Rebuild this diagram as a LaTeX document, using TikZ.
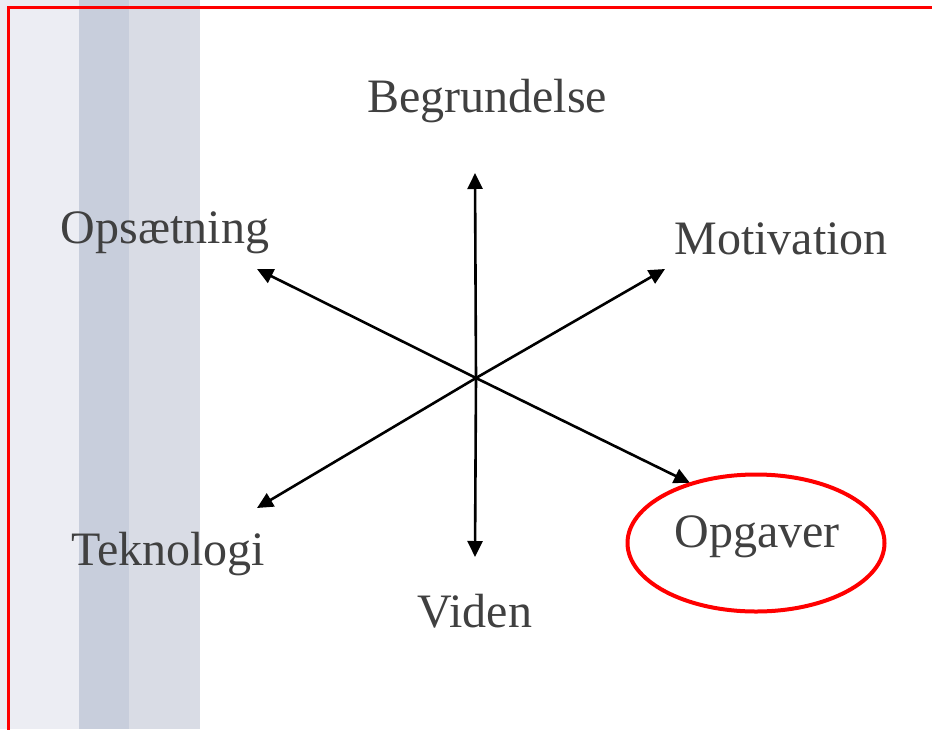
\documentclass[tikz,border=0pt]{standalone}
\usepackage{fontspec}
\setmainfont{Liberation Serif}
\usetikzlibrary{arrows.meta,shapes.geometric}
\definecolor{stripeA}{HTML}{ECEDF3}
\definecolor{stripeB}{HTML}{C8CEDC}
\definecolor{stripeC}{HTML}{D9DCE5}
\definecolor{txtgray}{HTML}{404040}
\tikzset{
  lbl/.style={anchor=base, text=txtgray, font=\fontsize{48}{58}\selectfont, inner sep=0pt},
  spoke/.style={line width=2.6pt, -{Triangle[length=16pt,width=15pt]}},
}
\begin{document}
\begin{tikzpicture}[x=1pt,y=-1pt]
\useasboundingbox (0,0) rectangle (932,729);
\fill[white] (0,0) rectangle (932,729);
\fill[stripeA] (0,0) rectangle (79,729);
\fill[stripeB] (79,0) rectangle (129,729);
\fill[stripeC] (129,0) rectangle (200,729);
\begin{scope}
\clip (0,0) rectangle (932,729);
\draw[red, line width=3pt] (8,760) -- (8,7.5) -- (960,7.5);
\end{scope}
\coordinate (c) at (476,378);
\coordinate (tU) at (475,173);
\coordinate (tD) at (475,557);
\coordinate (tUL) at (257,269);
\coordinate (tUR) at (665,269);
\coordinate (tDL) at (257,508);
\coordinate (tDR) at (690,483);
\draw[spoke] (c) -- (tU);
\draw[spoke] (c) -- (tD);
\draw[spoke] (c) -- (tUL);
\draw[spoke] (c) -- (tUR);
\draw[spoke] (c) -- (tDL);
\draw[spoke] (c) -- (tDR);
\node[lbl] (beg) at (487,112) {Begrundelse};
\node[lbl] (ops) at (165,243) {Opsætning};
\node[lbl] (mot) at (781,254) {Motivation};
\node[lbl] (tek) at (168,565) {Teknologi};
\node[lbl] (vid) at (475,627) {Viden};
\node[lbl] (opg) at (757,547) {Opgaver};
\node[draw=red, line width=4pt, ellipse, minimum width=257pt, minimum height=137pt] (ell) at (756,543) {};
\end{tikzpicture}
\end{document}
